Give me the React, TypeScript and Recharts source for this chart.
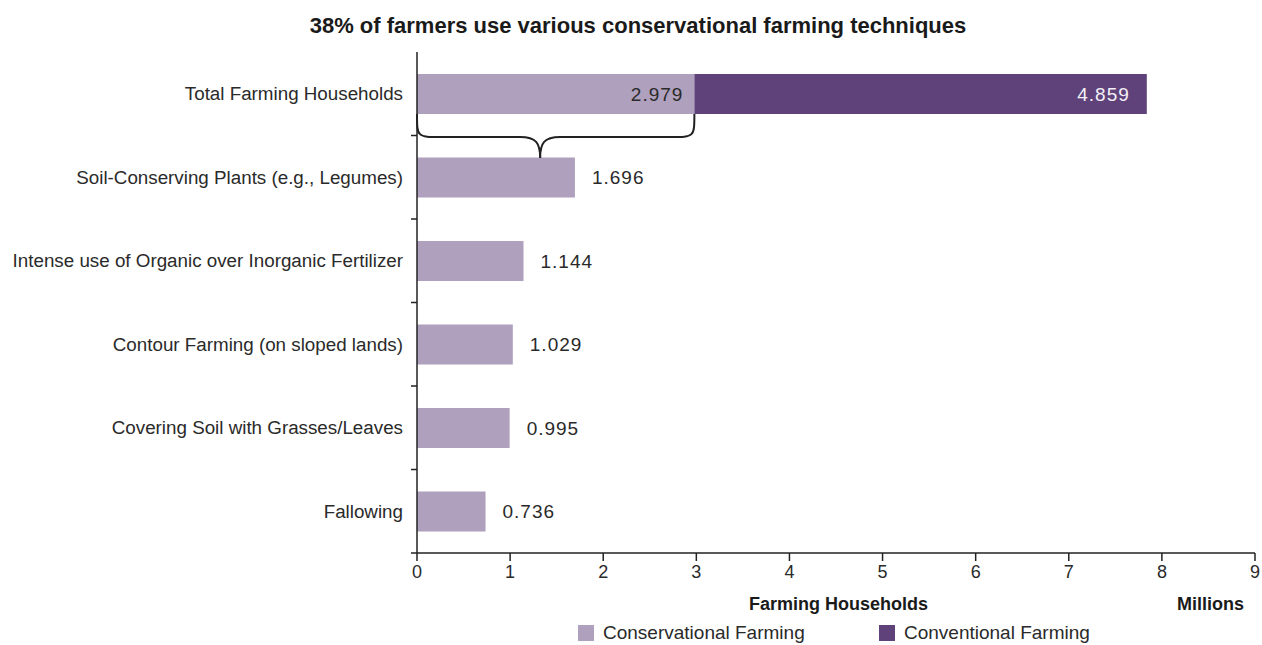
import React from "react";
import { BarChart, Bar, XAxis, YAxis, LabelList } from "recharts";

const categories = [
  "Total Farming Households",
  "Soil-Conserving Plants (e.g., Legumes)",
  "Intense use of Organic over Inorganic Fertilizer",
  "Contour Farming (on sloped lands)",
  "Covering Soil with Grasses/Leaves",
  "Fallowing",
];
const conservationalValues = [2.979, 1.696, 1.144, 1.029, 0.995, 0.736];
const conventionalValues = [4.859, null, null, null, null, null];
const xTicks = [0, 1, 2, 3, 4, 5, 6, 7, 8, 9];

const data = categories.map((name, i) => ({
  name,
  conservational: conservationalValues[i],
  conventional: conventionalValues[i],
}));

const LIGHT = "#afa0bd";
const DARK = "#5e4279";
const AXIS = "#222";
const FONT = "'Liberation Sans', Arial, sans-serif";

const YTick = (props: any) => {
  const { x, y, payload } = props;
  const off = payload && payload.offset ? payload.offset : 0;
  return (
    <g>
      <text x={x - 14} y={y} textAnchor="end" dominantBaseline="central" fontFamily={FONT} fontSize={18.8} fill="#2a2a2a">
        {payload.value}
      </text>
      <line x1={x - 6} x2={x} y1={y + off} y2={y + off} stroke={AXIS} strokeWidth={1.5} />
    </g>
  );
};

const valueStyle = { fontFamily: FONT, fontSize: 19, letterSpacing: 1 } as const;

const ConsLabel = (props: any) => {
  const { x, y, width, height, value, index } = props;
  const cy = y + height / 2;
  if (index === 0) {
    const x0 = x;
    const x1 = x + width;
    const yT = y + height;
    const yM = yT + 23;
    const yTip = yT + 44;
    const tx = x0 + width * 0.444;
    const left = `M ${x0} ${yT} C ${x0} ${yM} ${x0} ${yM} ${x0 + 24} ${yM} L ${tx - 20} ${yM} C ${tx - 4} ${yM} ${tx} ${yM + 6} ${tx} ${yTip}`;
    const right = `M ${x1} ${yT} C ${x1} ${yM} ${x1} ${yM} ${x1 - 24} ${yM} L ${tx + 20} ${yM} C ${tx + 4} ${yM} ${tx} ${yM + 6} ${tx} ${yTip}`;
    return (
      <g>
        <text x={x1 - 11} y={cy} textAnchor="end" dominantBaseline="central" {...valueStyle} fill="#2a2a2a">
          {Number(value).toFixed(3)}
        </text>
        <path d={left} fill="none" stroke="#222" strokeWidth={2} />
        <path d={right} fill="none" stroke="#222" strokeWidth={2} />
      </g>
    );
  }
  return (
    <text x={x + width + 17} y={cy} textAnchor="start" dominantBaseline="central" {...valueStyle} fill="#2a2a2a">
      {Number(value).toFixed(3)}
    </text>
  );
};

const ConvLabel = (props: any) => {
  const { x, y, width, height, value } = props;
  if (value == null) return null;
  return (
    <text x={x + width - 17} y={y + height / 2} textAnchor="end" dominantBaseline="central" {...valueStyle} fill="#f4f0f7">
      {Number(value).toFixed(3)}
    </text>
  );
};

export default function App() {
  return (
    <div style={{ position: "absolute", left: 0, top: 0, width: 1262, height: 645, background: "#fff", overflow: "hidden" }}>
      <div style={{ position: "absolute", left: 0, width: 1262, top: 13, textAlign: "center", fontFamily: FONT, fontWeight: "bold", fontSize: 22, color: "#1a1a1a", paddingLeft: 14, boxSizing: "border-box" }}>
        38% of farmers use various conservational farming techniques
      </div>
      <BarChart
        width={1262}
        height={645}
        data={data}
        layout="vertical"
        margin={{ top: 52, right: 7, bottom: 62, left: 0 }}
        barSize={40}
      >
        <XAxis
          type="number"
          domain={[0, 9]}
          ticks={xTicks}
          interval={0}
          height={30}
          axisLine={{ stroke: AXIS, strokeWidth: 1.5 }}
          tickLine={{ stroke: AXIS, strokeWidth: 1.5 }}
          tickSize={8}
          tickMargin={4}
          tick={{ fill: "#2a2a2a", fontSize: 18, fontFamily: FONT }}
        />
        <YAxis
          type="category"
          dataKey="name"
          width={417}
          axisLine={{ stroke: AXIS, strokeWidth: 1.5 }}
          tickLine={false}
          tickSize={0}
          tickMargin={0}
          interval={0}
          tick={<YTick />}
        />
        <Bar dataKey="conservational" stackId="a" fill={LIGHT} isAnimationActive={false}>
          <LabelList dataKey="conservational" content={<ConsLabel />} />
        </Bar>
        <Bar dataKey="conventional" stackId="a" fill={DARK} isAnimationActive={false}>
          <LabelList dataKey="conventional" content={<ConvLabel />} />
        </Bar>
      </BarChart>
      <div style={{ position: "absolute", left: 749, top: 594, fontFamily: FONT, fontWeight: "bold", fontSize: 18, color: "#1a1a1a" }}>
        Farming Households
      </div>
      <div style={{ position: "absolute", left: 1177, top: 594, fontFamily: FONT, fontWeight: "bold", fontSize: 18, color: "#1a1a1a" }}>
        Millions
      </div>
      <div style={{ position: "absolute", left: 578, top: 622, display: "flex", alignItems: "center", fontFamily: FONT, fontSize: 19, lineHeight: "22px", color: "#2a2a2a" }}>
        <span style={{ display: "inline-block", width: 16, height: 16, background: LIGHT, marginRight: 9 }} />
        <span style={{ width: 276 }}>Conservational Farming</span>
        <span style={{ display: "inline-block", width: 16, height: 16, background: DARK, marginRight: 9 }} />
        <span>Conventional Farming</span>
      </div>
    </div>
  );
}
